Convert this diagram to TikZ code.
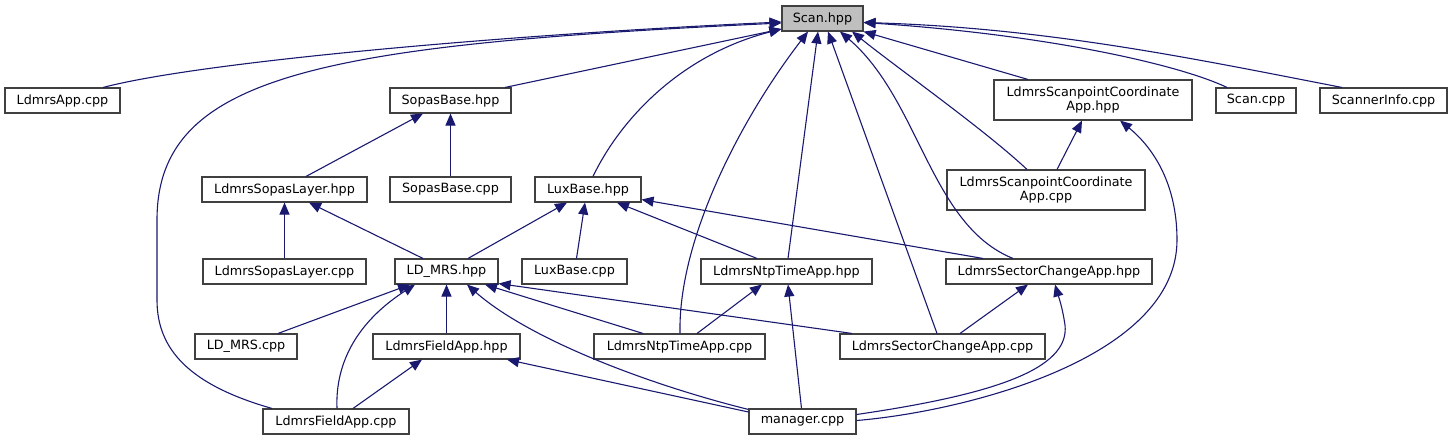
\documentclass[tikz,border=0pt]{standalone}
\usepackage{fontspec}
\setmainfont{DejaVu Sans}
\usetikzlibrary{arrows.meta,calc}
\definecolor{edgeblue}{HTML}{191970}
\definecolor{rootfill}{HTML}{BFBFBF}
\definecolor{boxline}{HTML}{404040}
\begin{document}
\begin{tikzpicture}[x=1pt,y=-1pt,
  box/.style={draw=boxline, line width=1.1pt, fill=white, inner sep=0pt,
    minimum height=25pt, align=center, font=\fontsize{12.75}{14}\selectfont},
  tallbox/.style={box, minimum height=40pt},
  edge/.style={draw=edgeblue, line width=1.1pt, -{Triangle[length=12pt,width=10pt]}}]
\useasboundingbox (0,0) rectangle (1453,440);
% nodes
\node[box, minimum width=81pt, fill=rootfill] (scan) at (822.5,18.5) {Scan.hpp};
\node[box, minimum width=115pt] (ldmrsapp) at (62.5,100.5) {LdmrsApp.cpp};
\node[box, minimum width=121pt] (sopasbase) at (450.5,100.5) {SopasBase.hpp};
\node[tallbox, minimum width=198pt] (scanptH) at (1093,100) {LdmrsScanpointCoordinate\\App.hpp};
\node[box, minimum width=80pt] (scancpp) at (1256,100.5) {Scan.cpp};
\node[box, minimum width=127pt] (scannerinfo) at (1383.5,100.5) {ScannerInfo.cpp};
\node[box, minimum width=165pt] (sopaslayerH) at (284.5,189.5) {LdmrsSopasLayer.hpp};
\node[box, minimum width=121pt] (sopasbasecpp) at (450.5,189.5) {SopasBase.cpp};
\node[box, minimum width=106pt] (luxbase) at (588,189.5) {LuxBase.hpp};
\node[tallbox, minimum width=198pt] (scanptC) at (1046,190) {LdmrsScanpointCoordinate\\App.cpp};
\node[box, minimum width=163pt] (sopaslayerC) at (284.5,271.5) {LdmrsSopasLayer.cpp};
\node[box, minimum width=103pt] (ldmrsH) at (446.5,271.5) {LD\_MRS.hpp};
\node[box, minimum width=105pt] (luxbasecpp) at (574.5,271.5) {LuxBase.cpp};
\node[box, minimum width=171pt] (ntpH) at (786.5,271.5) {LdmrsNtpTimeApp.hpp};
\node[box, minimum width=206pt] (sectorH) at (1049,271.5) {LdmrsSectorChangeApp.hpp};
\node[box, minimum width=102pt] (ldmrscpp) at (246,346.5) {LD\_MRS.cpp};
\node[box, minimum width=147pt] (fieldH) at (446.5,346.5) {LdmrsFieldApp.hpp};
\node[box, minimum width=171pt] (ntpC) at (679.5,346.5) {LdmrsNtpTimeApp.cpp};
\node[box, minimum width=205pt] (sectorC) at (942.5,346.5) {LdmrsSectorChangeApp.cpp};
\node[box, minimum width=146pt] (fieldC) at (336,421.5) {LdmrsFieldApp.cpp};
\node[box, minimum width=107pt] (manager) at (802.5,421.5) {manager.cpp};
% edges into Scan.hpp
\draw[edge] ($(ldmrsapp.north)+(40.5,0)$) .. controls (200,62) and (500,35) .. ($(scan.west)+(0,3.5)$);
\draw[edge] ($(fieldC.north)+(-64,0)$) .. controls (190,385) and (157,350) .. (157,300) -- (157,220) .. controls (157,75) and (320,45) .. ($(scan.west)+(0,4.5)$);
\draw[edge] ($(sopasbase.north)+(54.5,0)$) -- ($(scan.west)+(0,10.5)$);
\draw[edge] ($(luxbase.north)+(5,0)$) .. controls (620,120) and (680,55) .. ($(scan.west)+(0,10.5)$);
\draw[edge] ($(ntpC.north)+(0.5,0)$) .. controls (678,240) and (740,120) .. ($(scan.south)+(-14.5,0)$);
\draw[edge] ($(ntpH.north)+(1.5,0)$) -- ($(scan.south)+(-4.5,0)$);
\draw[edge] ($(sectorC.north)+(-5.5,0)$) -- ($(scan.south)+(5.5,0)$);
\draw[edge] ($(scanptC.north)+(-19,0)$) .. controls (985,130) and (900,70) .. ($(scan.south)+(29.5,0)$);
\draw[edge] ($(sectorH.north)+(-36,0)$) .. controls (930,225) and (920,100) .. ($(scan.south)+(17.5,0)$);
\draw[edge] ($(scanptH.north)+(-65,0)$) -- (scan.south east);
\draw[edge] ($(scancpp.north)+(-29,0)$) .. controls (1180,65) and (1050,35) .. ($(scan.east)+(0,4)$);
\draw[edge] ($(scannerinfo.north)+(-41.5,0)$) .. controls (1200,60) and (1050,28) .. ($(scan.east)+(0,4)$);
% other edges
\draw[edge] ($(sopaslayerH.north)+(21.5,0)$) -- ($(sopasbase.south)+(-27.5,0)$);
\draw[edge] (sopasbasecpp.north) -- (sopasbase.south);
\draw[edge] (sopaslayerC.north) -- (sopaslayerH.south);
\draw[edge] ($(ldmrsH.north)+(-23.5,0)$) -- ($(sopaslayerH.south)+(24.5,0)$);
\draw[edge] ($(ldmrsH.north)+(21.5,0)$) -- ($(luxbase.south)+(-21,0)$);
\draw[edge] ($(luxbasecpp.north)+(2,0)$) -- ($(luxbase.south)+(-3,0)$);
\draw[edge] ($(ntpH.north)+(-29.5,0)$) -- ($(luxbase.south)+(29,0)$);
\draw[edge] ($(sectorH.north)+(-66,0)$) -- ($(luxbase.south east)+(0,-3)$);
\draw[edge] ($(scanptC.north)+(11,0)$) -- ($(scanptH.south)+(-11,0)$);
\draw[edge] ($(manager.east)+(0,-1)$) .. controls (960,412) and (1177,360) .. (1177,240) .. controls (1177,180) and (1150,145) .. ($(scanptH.south)+(27,0)$);
\draw[edge] ($(ldmrscpp.north)+(32,0)$) -- ($(ldmrsH.south)+(-36.5,0)$);
\draw[edge] ($(fieldC.north)+(1,0)$) .. controls (335,360) and (360,320) .. ($(ldmrsH.south)+(-31.5,0)$);
\draw[edge] (fieldH.north) -- (ldmrsH.south);
\draw[edge] ($(ntpC.north)+(-36.5,0)$) -- ($(ldmrsH.south)+(38.5,0)$);
\draw[edge] ($(sectorC.north)+(-90.5,0)$) -- ($(ldmrsH.south east)+(0,-1)$);
\draw[edge] ($(manager.north west)+(0,1)$) .. controls (650,385) and (530,340) .. ($(ldmrsH.south)+(20.5,0)$);
\draw[edge] ($(ntpC.north)+(17.5,0)$) -- ($(ntpH.south)+(-24.5,0)$);
\draw[edge] ($(manager.north)+(-1,0)$) -- ($(ntpH.south)+(1.5,0)$);
\draw[edge] ($(sectorC.north)+(17.5,0)$) -- ($(sectorH.south)+(-21,0)$);
\draw[edge] ($(manager.east)+(0,-7)$) .. controls (990,395) and (1070,370) .. (1065,325) .. controls (1062,305) and (1058,295) .. ($(sectorH.south)+(6,0)$);
\draw[edge] ($(fieldC.north)+(17,0)$) -- ($(fieldH.south)+(-24.5,0)$);
\draw[edge] ($(manager.west)+(0,-9.5)$) -- ($(fieldH.south)+(60.5,0)$);
\end{tikzpicture}
\end{document}
